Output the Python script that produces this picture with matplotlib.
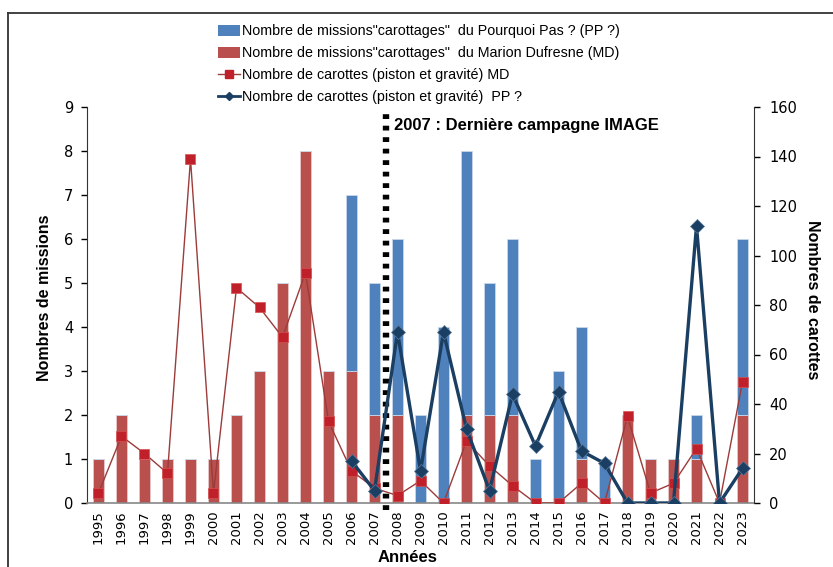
import numpy as np
import matplotlib
matplotlib.use("Agg")
import matplotlib.pyplot as plt
from matplotlib import font_manager as fm
from matplotlib.lines import Line2D
from matplotlib.patches import Patch

available = {f.name for f in fm.fontManager.ttflist}
cond = 'Liberation Sans Narrow' if 'Liberation Sans Narrow' in available else 'Liberation Sans'

years = [str(y) for y in range(1995, 2024)]
md_missions = [1, 2, 1, 1, 1, 1, 2, 3, 5, 8, 3, 3, 2, 2, 0, 0, 2, 2, 2, 0, 0, 1, 0, 2, 1, 1, 1, 0, 2]
pp_missions = [0, 0, 0, 0, 0, 0, 0, 0, 0, 0, 0, 4, 3, 4, 2, 4, 6, 3, 4, 1, 3, 3, 1, 0, 0, 0, 1, 0, 4]
md_cores = [4, 27, 20, 12, 139, 4, 87, 79, 67, 93, 33, 13, 6, 3, 9, 0, 25, 15, 7, 0, 0, 8, 0, 35, 4, 8, 22, 0, 49]
pp_cores = [np.nan] * 11 + [17, 5, 69, 13, 69, 30, 5, 44, 23, 45, 21, 16, 0, 0, 0, 112, 0, 14]

legend_labels = [
    'Nombre de missions"carottages"  du Pourquoi Pas ? (PP ?)',
    'Nombre de missions"carottages"  du Marion Dufresne (MD)',
    'Nombre de carottes (piston et gravité) MD',
    'Nombre de carottes (piston et gravité)  PP ?',
]

W, H = 833, 567
fig = plt.figure(figsize=(W / 100, H / 100), dpi=100)
ax = fig.add_axes([87 / W, 1 - 503 / H, (754 - 87) / W, (503 - 107) / H])
ax2 = ax.twinx()

x = np.arange(len(years))
red = '#B9504D'
blue = '#4F81BD'
bw = 0.45
ax.bar(x, md_missions, width=bw, color=red, edgecolor='#E8C8C8', linewidth=0.6, zorder=2)
ax.bar(x, pp_missions, width=bw, bottom=md_missions, color=blue, edgecolor='#C8D8EC', linewidth=0.6, zorder=2)

ax.set_xlim(-0.5, len(years) - 0.5)
ax.set_ylim(0, 9)
ax.set_yticks(range(0, 10))
ax2.set_ylim(0, 160)
ax2.set_yticks(range(0, 161, 20))

# dotted vertical line between 2007 and 2008
ax.plot([12.5, 12.5], [-0.15, 8.85], color='black', lw=4.6, solid_capstyle='butt',
        dash_capstyle='butt', dashes=(0.75, 1.05), zorder=3, clip_on=False)

ax2.plot(x, md_cores, color='#9B3B3A', lw=1.0, marker='s', markersize=6.5,
         markerfacecolor='#C0202A', markeredgecolor='#D85050', markeredgewidth=0.5, zorder=4)
ax2.plot(x, pp_cores, color='#1B3F62', lw=2.4, marker='D', markersize=7.5,
         markerfacecolor='#1B3F62', markeredgecolor='#5A7A9A', markeredgewidth=0.5, zorder=5)

ax.set_xticks(x)
ax.set_xticklabels(years, rotation=90, fontsize=9.5, family='DejaVu Sans')
ax.tick_params(axis='x', length=0, pad=5)
ax.tick_params(axis='y', direction='out', length=4, width=1, pad=6, labelsize=10.5)
ax2.tick_params(axis='y', direction='out', length=4, width=1, pad=7, labelsize=10.5)

for a in (ax, ax2):
    a.spines['top'].set_visible(False)
ax.spines['right'].set_visible(False)
ax2.spines['left'].set_visible(False)
ax2.spines['bottom'].set_visible(False)
ax.spines['bottom'].set_color('#888888')
ax.spines['bottom'].set_linewidth(1.2)
ax.spines['left'].set_color('#333333')
ax2.spines['right'].set_color('#333333')
ax.set_zorder(1)
ax2.set_zorder(2)
ax.patch.set_visible(False)
ax2.patch.set_visible(False)

fig.text(45 / W, 1 - 298 / H, 'Nombres de missions', family=cond, fontsize=11.5, fontweight='bold',
         rotation=90, ha='center', va='center')
fig.text(813 / W, 1 - 300 / H, 'Nombres de carottes', family=cond, fontsize=11.5, fontweight='bold',
         rotation=270, ha='center', va='center')
fig.text(408 / W, 1 - 557 / H, 'Années', family=cond, fontsize=12, fontweight='bold',
         ha='center', va='center')

ax.text(12.85, 8.57, '2007 : Dernière campagne IMAGE', family='Liberation Sans', fontsize=12,
        fontweight='bold', ha='left', va='center', zorder=6)

handles = [
    Patch(facecolor=blue, edgecolor='none'),
    Patch(facecolor=red, edgecolor='none'),
    Line2D([], [], color='#9B3B3A', lw=1, marker='s', markersize=6, markerfacecolor='#C0202A',
           markeredgecolor='#C0202A'),
    Line2D([], [], color='#1B3F62', lw=2, marker='D', markersize=4, markerfacecolor='#1B3F62'),
]
fig.legend(handles, legend_labels, loc='upper left', bbox_to_anchor=(211 / W, 1 - 17 / H),
           frameon=False, prop={'family': cond, 'size': 10.3}, handlelength=1.5,
           handleheight=0.8, handletextpad=0.15, labelspacing=0.56, borderpad=0)

# outer frame (top and left edges)
fig.add_artist(Line2D([8 / W, 1.0], [1 - 13 / H, 1 - 13 / H], color='#333333', lw=1.3,
                      transform=fig.transFigure))
fig.add_artist(Line2D([8 / W, 8 / W], [0, 1 - 13 / H], color='#333333', lw=1.3,
                      transform=fig.transFigure))

fig.savefig('out.png', dpi=100)
